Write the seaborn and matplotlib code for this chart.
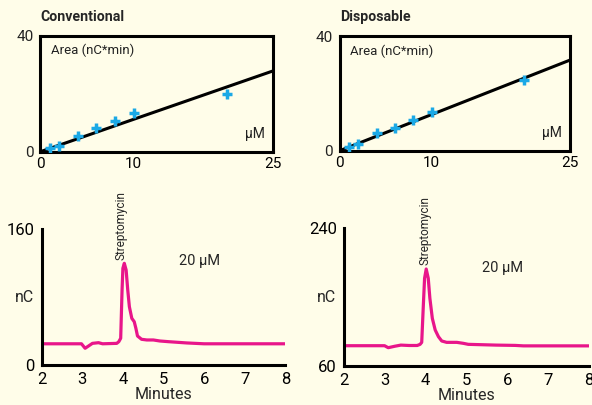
import numpy as np
import pandas as pd
import matplotlib
matplotlib.use("Agg")
import matplotlib.pyplot as plt
import seaborn as sns

# Calibration data (conc in uM, area in nC*min)
conc = [1, 2, 4, 6, 8, 10, 20]
area_conventional = [1.2, 2.1, 5.4, 8.3, 10.7, 13.4, 20.0]
area_disposable = [1.4, 2.3, 6.3, 8.0, 10.7, 13.6, 24.7]
fit_x = [0, 25]
fit_conventional = [0, 27.9]
fit_disposable = [0, 31.6]

# Chromatograms (minutes, nC)
t_conv = [2.0, 2.98, 3.07, 3.25, 3.4, 3.5, 3.85, 3.90, 3.946, 3.98, 4.0, 4.035,
          4.08, 4.12, 4.16, 4.22, 4.28, 4.32, 4.36, 4.46, 4.59, 4.75, 4.91, 5.12,
          5.57, 6.0, 8.0]
nc_conv = [25.0, 25.0, 19.7, 25.5, 26.3, 25.0, 25.5, 27.5, 31.5, 88.4, 114, 119.9,
           112, 88.4, 68.7, 55, 51, 43.3, 34.2, 30.3, 29.5, 29.5, 28.3, 27.5,
           26.0, 25.0, 25.0]
t_disp = [2.0, 3.0, 3.09, 3.25, 3.4, 3.6, 3.80, 3.87, 3.91, 3.95, 3.98, 4.02,
          4.07, 4.11, 4.17, 4.24, 4.32, 4.40, 4.52, 4.77, 4.93, 5.05, 5.73, 6.2,
          6.4, 8.0]
nc_disp = [86.2, 86.2, 83.6, 85.5, 87.0, 86.5, 86.5, 88.0, 90.6, 139.5, 174.5, 186.7,
           174.5, 148.3, 122, 106.8, 98, 92.4, 90.6, 90.6, 89.3, 88.0, 87.0, 86.6,
           86.0, 86.0]

bg = "#fffde9"
blue = "#1ba9e6"
pink = "#e8168a"

sns.set_style("white")
plt.rcParams['font.family'] = ['Roboto', 'DejaVu Sans']
plt.rcParams['axes.linewidth'] = 2.2

fig = plt.figure(figsize=(5.92, 4.05), dpi=100, facecolor=bg)

ax1 = fig.add_axes([0.0681, 0.6254, 0.3936, 0.2864])
ax2 = fig.add_axes([0.5738, 0.6279, 0.3890, 0.2832])
ax3 = fig.add_axes([0.0704, 0.0988, 0.4115, 0.3350])
ax4 = fig.add_axes([0.5806, 0.0970, 0.4139, 0.3393])


def calib(ax, area, fit, title):
    ax.set_facecolor(bg)
    sns.lineplot(x=fit_x, y=fit, ax=ax, color="black", linewidth=2.2)
    sns.scatterplot(x=conc, y=area, ax=ax, marker="+", s=60, color=blue,
                    linewidth=2.5, zorder=3)
    ax.set_xlim(0, 25)
    ax.set_ylim(0, 40)
    ax.set_xticks([0, 10, 25])
    ax.set_yticks([0, 40])
    for s in ax.spines.values():
        s.set_visible(True)
        s.set_color("black")
    ax.tick_params(axis='both', direction='out', length=4, width=2,
                   labelsize=11, pad=1, colors="black")
    ax.tick_params(axis='x', direction='inout', length=6)
    ax.tick_params(axis='y', labelcolor="#222222")
    ax.text(0.045, 0.87, "Area (nC*min)", transform=ax.transAxes,
            fontsize=9.5, color="#222222", va="center")
    ax.text(0.965, 0.15, "\u00b5M", transform=ax.transAxes,
            fontsize=10, color="#222222", ha="right", va="center")
    ax.text(0.0, 1.165, title, transform=ax.transAxes, fontsize=10.2,
            fontweight="bold", va="center", ha="left")
    ax.set_xlabel("")
    ax.set_ylabel("")


def trace(ax, t, nc, ylim, peak_x, peak_y, label_y):
    ax.set_facecolor(bg)
    sns.lineplot(x=t, y=nc, ax=ax, color=pink, linewidth=2.3)
    ax.set_xlim(2, 8)
    ax.set_ylim(*ylim)
    ax.set_xticks(range(2, 9))
    ax.set_yticks(list(ylim))
    sns.despine(ax=ax)
    ax.spines['left'].set_color("black")
    ax.spines['bottom'].set_color("black")
    ax.tick_params(axis='both', direction='out', length=4, width=2,
                   labelsize=12, pad=1, colors="black")
    ax.set_xlabel("Minutes", fontsize=11.5, labelpad=0)
    ax.set_ylabel("nC", fontsize=11.5, rotation=0, va="center")
    ax.yaxis.set_label_coords(-0.07, 0.5)
    ax.text(peak_x, peak_y, "Streptomycin", rotation=90, fontsize=8.5,
            ha="center", va="bottom", clip_on=False)
    ax.text(5.38, label_y, "20 \u00b5M", fontsize=10.5, ha="left", va="center")


calib(ax1, area_conventional, fit_conventional, "Conventional")
calib(ax2, area_disposable, fit_disposable, "Disposable")
trace(ax3, t_conv, nc_conv, (0, 160), 3.95, 124, 122.6)
trace(ax4, t_disp, nc_disp, (60, 240), 3.98, 192, 187.6)

fig.savefig("out.png", dpi=100, facecolor=bg)
